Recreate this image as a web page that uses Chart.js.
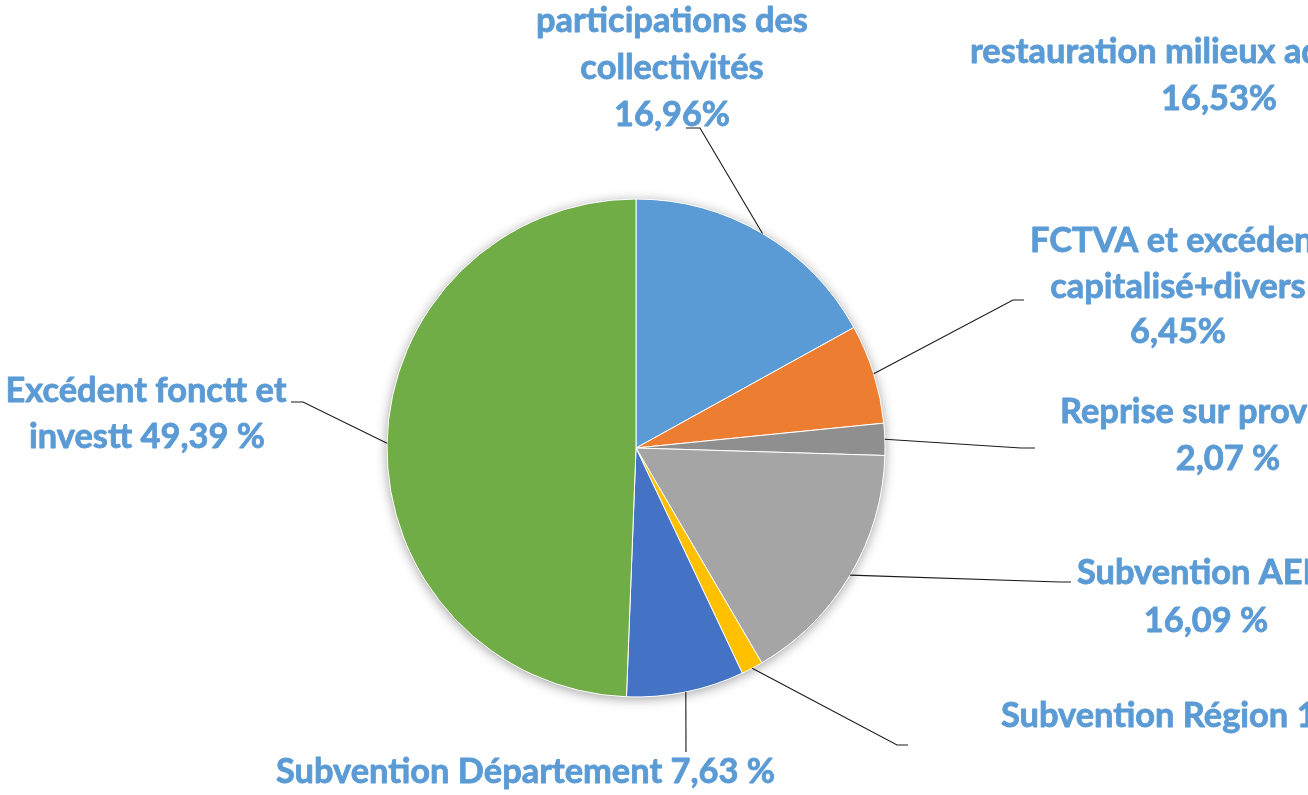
<!DOCTYPE html>
<html><head><meta charset="utf-8">
<script src="https://cdn.jsdelivr.net/npm/chart.js@4.4.1/dist/chart.umd.min.js"></script>
<style>html,body{margin:0;padding:0;background:#fff;overflow:hidden}#wrap{width:1308px;height:795px;position:relative}canvas{display:block}</style>
</head><body><div id="wrap"><canvas id="c" width="1308" height="795"></canvas></div>
<script>
// ---- data ----
const categories = ['participations des collectivités','restauration milieux aquatiques','FCTVA et excédent capitalisé+divers','Reprise sur provisions','Subvention AELB','Subvention Région','Subvention Département','Excédent fonctt et investt'];
const values = [16.96, 0, 6.45, 2.07, 16.09, 1.41, 7.63, 49.39];
const percentText = ['16,96%','16,53%','6,45%','2,07 %','16,09 %','1,41 %','7,63 %','49,39 %'];
const labelText = [
  ['participations des','collectivités', percentText[0]],
  ['restauration milieux aquatiques', percentText[1]],
  ['FCTVA et excédent','capitalisé+divers', percentText[2]],
  ['Reprise sur provisions', percentText[3]],
  ['Subvention AELB', percentText[4]],
  ['Subvention Région ' + percentText[5]],
  ['Subvention Département ' + percentText[6]],
  ['Excédent fonctt et','investt ' + percentText[7]]
];
const sliceColors = ['#5B9BD5','#A9D18E','#ED7D31','#8F8F8F','#A5A5A5','#FFC000','#4472C4','#70AD47'];

// ---- layout (positions of label lines and leader-line elbows) ----
const labelLayout = [
  {lines:[[672,32,'center'],[672,79,'center'],[672,126,'center']], leader:[[700,128],[686,128]]},
  {lines:[[970,63,'left'],[1219,110,'center']], leader:null},
  {lines:[[1178,252,'center'],[1178,298,'center'],[1178,343,'center']], leader:[[1013,300],[1024,300]]},
  {lines:[[1060,423,'left'],[1228,470,'center']], leader:[[1021,448],[1035,448]]},
  {lines:[[1077,584,'left'],[1206,632,'center']], leader:[[1060,582],[1071,582]]},
  {lines:[[1001,727,'left']], leader:[[897,745],[908,745]]},
  {lines:[[525.5,783,'center']], leader:[[686,752]]},
  {lines:[[146,402,'center'],[147,448,'center']], leader:[[303,402],[291,402]]}
];
const textColor = '#5B9BD5';
const fontFamily = 'Lato, "Open Sans", sans-serif';
const fontSize = 34;

function labelScaleX(ctx){
  ctx.save();
  ctx.font = 'bold ' + fontSize + 'px ' + fontFamily;
  const w = ctx.measureText(labelText[6][0]).width;
  ctx.restore();
  return 499 / w;
}

const shadowPlugin = {
  id: 'pieShadow',
  beforeDatasetsDraw(chart){
    const arc = chart.getDatasetMeta(0).data[0];
    if(!arc) return;
    const {x, y, outerRadius} = arc.getProps(['x','y','outerRadius'], true);
    const ctx = chart.ctx;
    ctx.save();
    ctx.shadowColor = 'rgba(0,0,0,0.38)';
    ctx.shadowBlur = 12;
    ctx.shadowOffsetX = 0;
    ctx.shadowOffsetY = 2;
    ctx.fillStyle = '#ffffff';
    ctx.beginPath();
    ctx.arc(x, y, outerRadius, 0, Math.PI*2);
    ctx.fill();
    ctx.restore();
  }
};

const labelPlugin = {
  id: 'outerLabels',
  afterDatasetsDraw(chart){
    const ctx = chart.ctx;
    const meta = chart.getDatasetMeta(0);
    const sx = labelScaleX(ctx);
    ctx.save();
    ctx.strokeStyle = '#1a1a1a';
    ctx.lineWidth = 1.1;
    meta.data.forEach((arc, i) => {
      const lay = labelLayout[i];
      if(!lay || !lay.leader || values[i] <= 0) return;
      const {x, y, startAngle, endAngle, outerRadius} = arc.getProps(['x','y','startAngle','endAngle','outerRadius'], true);
      const mid = (startAngle + endAngle) / 2;
      ctx.beginPath();
      ctx.moveTo(x + outerRadius*Math.cos(mid), y + outerRadius*Math.sin(mid));
      lay.leader.forEach(p => ctx.lineTo(p[0], p[1]));
      ctx.stroke();
    });
    ctx.fillStyle = textColor;
    ctx.strokeStyle = textColor;
    ctx.lineWidth = 0.8;
    ctx.lineJoin = 'round';
    ctx.font = 'bold ' + fontSize + 'px ' + fontFamily;
    ctx.textBaseline = 'alphabetic';
    labelText.forEach((lines, i) => {
      lines.forEach((t, j) => {
        const p = labelLayout[i].lines[j];
        ctx.save();
        ctx.translate(p[0], p[1]);
        ctx.scale(sx, 1);
        ctx.textAlign = p[2];
        ctx.fillText(t, 0, 0);
        ctx.strokeText(t, 0, 0);
        ctx.restore();
      });
    });
    ctx.restore();
  }
};

new Chart(document.getElementById('c'), {
  type: 'pie',
  data: {
    labels: categories,
    datasets: [{
      data: values,
      backgroundColor: sliceColors,
      borderColor: '#ffffff',
      borderWidth: 1
    }]
  },
  options: {
    responsive: false,
    devicePixelRatio: 1,
    animation: false,
    radius: 249,
    layout: {padding: {left: 0, right: 36, top: 101, bottom: 0}},
    plugins: {legend: {display: false}, tooltip: {enabled: false}}
  },
  plugins: [shadowPlugin, labelPlugin]
});
</script>
</body></html>
